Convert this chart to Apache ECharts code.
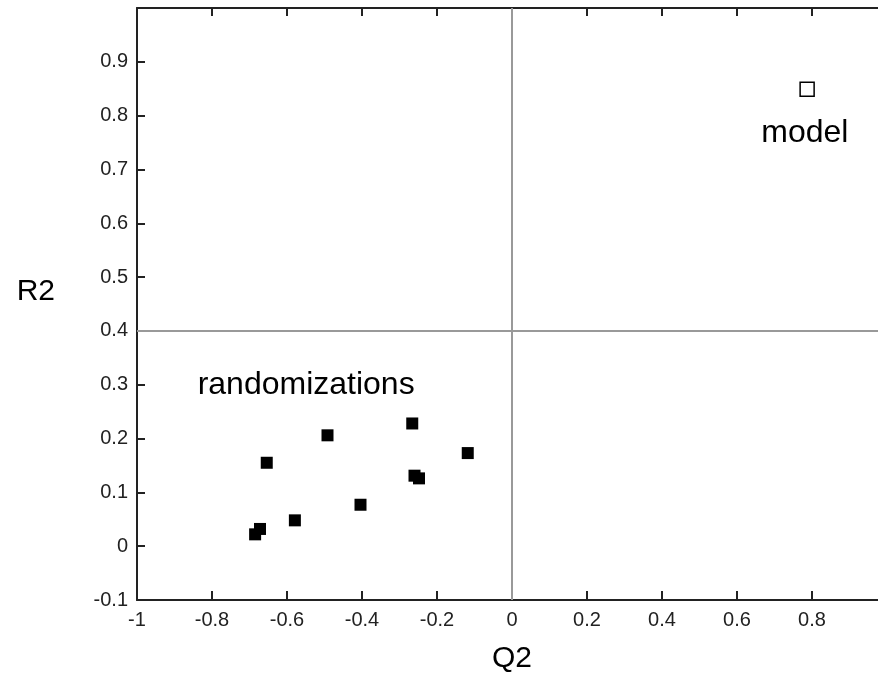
<!DOCTYPE html>
<html>
<head>
<meta charset="utf-8">
<title>Permutation test: R2 vs Q2</title>
<script src="https://cdn.jsdelivr.net/npm/echarts@6/dist/echarts.min.js"></script>
<style>
  html, body { margin: 0; padding: 0; background: #fff; }
  #chart { width: 878px; height: 677px; }
</style>
</head>
<body>
<div id="chart"></div>
<script>
// Randomized (permuted) models: Q2 and R2 pairs
const randQ2 = [-0.654, -0.492, -0.266, -0.118, -0.260, -0.248, -0.404, -0.579, -0.672, -0.685];
const randR2 = [0.155, 0.206, 0.228, 0.173, 0.131, 0.126, 0.077, 0.048, 0.032, 0.022];

// The original model
const modelQ2 = [0.787];
const modelR2 = [0.849];

// Reference lines
const refQ2 = 0;
const refR2 = 0.4;

// Text notes placed in data space
const noteText = ['randomizations', 'model'];
const noteQ2 = [-0.549, 0.781];
const noteR2 = [0.3, 0.768];

// Axis ranges and tick steps
const xMin = -1, xMax = 1, xStep = 0.2;
const yMin = -0.1, yMax = 1, yStep = 0.1;

const tickFont = { fontFamily: 'Liberation Sans, Arial, sans-serif', fontSize: 20, color: '#222' };
const titleFont = { fontFamily: 'Liberation Sans, Arial, sans-serif', fontSize: 30, color: '#000' };
const axisLineStyle = { color: '#222', width: 2 };

function fmt(v, hideAt) {
  const r = Math.round(v * 10) / 10;
  if (Math.abs(r - hideAt) < 1e-9) return '';
  return String(r);
}

const chart = echarts.init(document.getElementById('chart'), null, { renderer: 'canvas' });

chart.setOption({
  animation: false,
  backgroundColor: '#fff',
  grid: { left: 137, top: 8, width: 750, height: 592, containLabel: false, outerBoundsMode: 'none' },
  xAxis: [
    {
      type: 'value', min: xMin, max: xMax, interval: xStep,
      position: 'bottom',
      name: 'Q2', nameLocation: 'middle', nameGap: 44, nameTextStyle: titleFont,
      axisLine: { show: true, onZero: false, lineStyle: axisLineStyle },
      axisTick: { show: true, inside: true, length: 9, lineStyle: axisLineStyle },
      axisLabel: Object.assign({ margin: 10, formatter: v => fmt(v, xMax) }, tickFont),
      splitLine: { show: false }
    },
    {
      type: 'value', min: xMin, max: xMax, interval: xStep,
      position: 'top',
      axisLine: { show: true, onZero: false, lineStyle: axisLineStyle },
      axisTick: { show: true, inside: true, length: 8, lineStyle: axisLineStyle },
      axisLabel: { show: false },
      splitLine: { show: false }
    }
  ],
  yAxis: [
    {
      type: 'value', min: yMin, max: yMax, interval: yStep,
      position: 'left',
      name: 'R2', nameLocation: 'middle', nameRotate: 0, nameGap: 82,
      nameTextStyle: Object.assign({ verticalAlign: 'bottom', lineHeight: 24 }, titleFont),
      axisLine: { show: true, onZero: false, lineStyle: axisLineStyle },
      axisTick: { show: true, inside: true, length: 8, lineStyle: axisLineStyle },
      axisLabel: Object.assign({ margin: 9, formatter: v => fmt(v, yMax) }, tickFont),
      splitLine: { show: false }
    }
  ],
  series: [
    {
      name: 'reference',
      type: 'scatter',
      data: [],
      markLine: {
        silent: true,
        symbol: ['none', 'none'],
        label: { show: false },
        lineStyle: { color: '#999', width: 2, type: 'solid', opacity: 1 },
        data: [{ xAxis: refQ2 }, { yAxis: refR2 }]
      }
    },
    {
      name: 'randomizations',
      type: 'scatter',
      symbol: 'rect',
      symbolSize: 12,
      itemStyle: { color: '#000', opacity: 1 },
      data: randQ2.map((q, i) => [q, randR2[i]]),
      z: 3
    },
    {
      name: 'model',
      type: 'scatter',
      symbol: 'rect',
      symbolSize: 14,
      itemStyle: { color: '#fff', borderColor: '#000', borderWidth: 1.5, opacity: 1 },
      data: modelQ2.map((q, i) => [q, modelR2[i]]),
      z: 3
    },
    {
      name: 'notes',
      type: 'scatter',
      symbolSize: 0,
      silent: true,
      itemStyle: { opacity: 1 },
      data: noteText.map((t, i) => ({ name: t, value: [noteQ2[i], noteR2[i]] })),
      label: {
        show: true,
        position: 'inside',
        formatter: p => p.name,
        fontFamily: 'Liberation Sans, Arial, sans-serif',
        fontSize: 32,
        color: '#000',
        opacity: 1
      }
    }
  ]
});
</script>
</body>
</html>
